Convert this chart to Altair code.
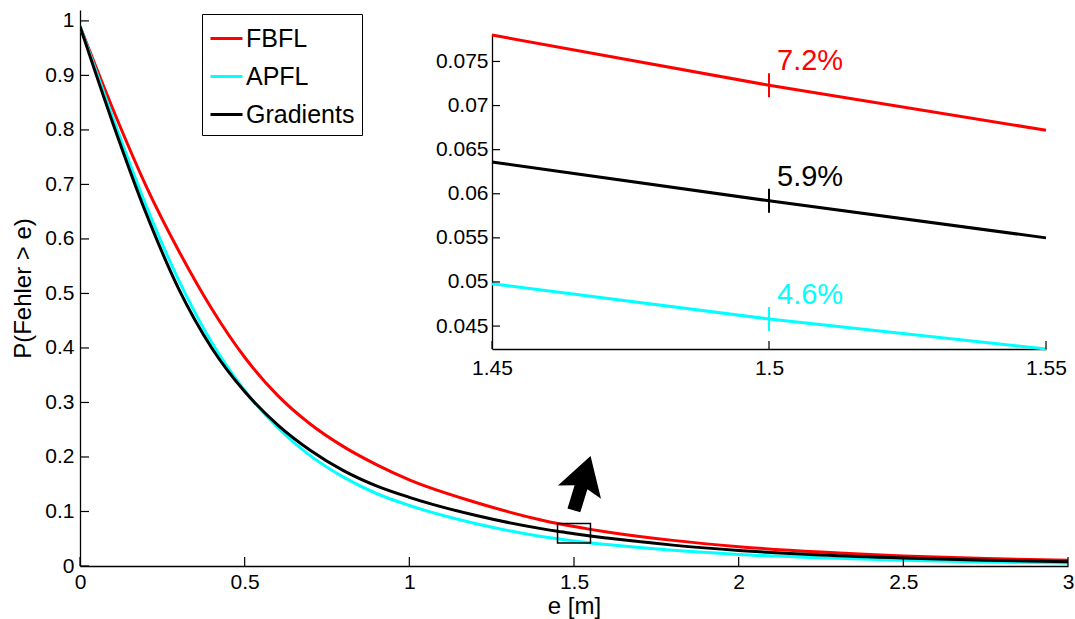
import altair as alt
import pandas as pd

# Error threshold e [m] and exceedance probability P(Fehler > e) per method
e_m = [0, 0.1, 0.2, 0.3, 0.4, 0.5, 0.6, 0.7, 0.8, 0.9, 1.0, 1.2, 1.4,
       1.45, 1.5, 1.55, 1.6, 1.8, 2.0, 2.25, 2.5, 2.75, 3.0]
p_fbfl = [0.99, 0.838, 0.698, 0.578, 0.472, 0.383, 0.313, 0.260, 0.219, 0.186,
          0.158, 0.117, 0.0845, 0.0780, 0.0723, 0.0672, 0.0625, 0.047, 0.0355,
          0.0255, 0.0185, 0.0138, 0.0105]
p_apfl = [0.99, 0.822, 0.662, 0.524, 0.410, 0.322, 0.254, 0.202, 0.163, 0.133,
          0.111, 0.078, 0.0543, 0.0498, 0.0458, 0.0424, 0.0393, 0.0288, 0.0213,
          0.0150, 0.0105, 0.0075, 0.0053]
p_grad = [0.99, 0.812, 0.648, 0.508, 0.400, 0.320, 0.259, 0.212, 0.175, 0.147,
          0.126, 0.093, 0.0686, 0.0636, 0.0592, 0.0550, 0.0512, 0.0383, 0.0285,
          0.0200, 0.0145, 0.0107, 0.0080]

methods = ["FBFL", "APFL", "Gradients"]
colors = ["#ff0000", "#00ffff", "#000000"]

x_ticks = [0, 0.5, 1, 1.5, 2, 2.5, 3]
y_ticks = [0, 0.1, 0.2, 0.3, 0.4, 0.5, 0.6, 0.7, 0.8, 0.9, 1]

# Zoomed window shown in the inset
zoom_e = [1.45, 1.55]
zoom_p = [0.0424, 0.078]
zoom_x_ticks = [1.45, 1.5, 1.55]
zoom_y_ticks = [0.045, 0.05, 0.055, 0.06, 0.065, 0.07, 0.075]
zoom_at = 1.5

# Arrow pointing from the zoom box towards the inset
arrow_e = [1.525]
arrow_p = [0.152]

# Plot geometry (pixels)
W, H = 988, 556
IN_X = [412, 966]
IN_Y = [339, 25]

rows = []
for name, vals in zip(methods, [p_fbfl, p_apfl, p_grad]):
    for e, p in zip(e_m, vals):
        rows.append({"e": e, "p": p, "method": name})
curves = pd.DataFrame(rows)

FONT = "Liberation Sans"

legend = alt.Legend(
    title=None, orient="none", legendX=122, legendY=4,
    symbolType="stroke", symbolSize=1024, symbolStrokeWidth=3,
    labelFontSize=25, labelFont=FONT, labelColor="black", labelOffset=2,
    strokeColor="black", fillColor="white", padding=7, rowPadding=7,
)
color = alt.Color("method:N", scale=alt.Scale(domain=methods, range=colors),
                  legend=legend)

ax_x = alt.Axis(values=x_ticks, format="~g", title="e [m]", labelFlush=False,
                labelOverlap=False, labelPadding=5, titlePadding=2)
ax_y = alt.Axis(values=y_ticks, format="~g", title="P(Fehler > e)",
                labelOverlap=False, labelPadding=6, titlePadding=9)
X = alt.X("e:Q", scale=alt.Scale(domain=[0, 3], nice=False, zero=False), axis=ax_x)
Y = alt.Y("p:Q", scale=alt.Scale(domain=[0, 1.02], nice=False), axis=ax_y)

in_ax_x = alt.Axis(orient="bottom", offset=-(H - IN_Y[0]), values=zoom_x_ticks,
                   format="~g", title=None, labelFlush=False, labelOverlap=False,
                   labelPadding=8)
in_ax_y = alt.Axis(orient="left", offset=-IN_X[0], values=zoom_y_ticks,
                   format="~g", title=None, labelOverlap=False, labelPadding=4)
XI = alt.X("e:Q", scale=alt.Scale(domain=zoom_e, range=IN_X, nice=False, zero=False),
           axis=in_ax_x)
YI = alt.Y("p:Q", scale=alt.Scale(domain=zoom_p, range=IN_Y, nice=False, zero=False),
           axis=in_ax_y)

# ---- main panel ----
main_lines = alt.Chart(curves).mark_line(
    strokeWidth=3, interpolate="monotone", clip=True
).encode(x=X, y=Y, color=color)

main_xt = alt.Chart(pd.DataFrame({"e": x_ticks})).mark_rule(
    color="black", strokeWidth=1.2
).encode(x=X, y=alt.value(H), y2=alt.value(H - 9))

main_yt = alt.Chart(pd.DataFrame({"p": y_ticks})).mark_rule(
    color="black", strokeWidth=1.2
).encode(y=Y, x=alt.value(0), x2=alt.value(9))

zoom_box = alt.Chart(pd.DataFrame({
    "e": [zoom_e[0]], "e2": [zoom_e[1]], "p": [zoom_p[0]], "p2": [zoom_p[1]]
})).mark_rect(fillOpacity=0, stroke="black", strokeWidth=1.5).encode(
    x=X, x2="e2", y=Y, y2="p2"
)

ARROW = ("M-0.235,1 L-0.235,0.15 L-0.79,0.33 L0,-1 L0.79,0.33 "
         "L0.235,0.15 L0.235,1 Z")
arrow = alt.Chart(pd.DataFrame({"e": arrow_e, "p": arrow_p})).mark_point(
    shape=ARROW, filled=True, color="black", opacity=1, size=3249,
    angle=17, strokeWidth=0
).encode(x=X, y=Y)

main = alt.layer(main_lines, main_xt, main_yt, zoom_box, arrow)

# ---- inset ----
in_data = alt.Chart(curves).transform_filter(
    alt.FieldRangePredicate(field="e", range=zoom_e)
)
in_lines = in_data.mark_line(strokeWidth=3, clip=True).encode(x=XI, y=YI, color=color)

at_data = alt.Chart(curves).transform_filter(f"datum.e == {zoom_at}")
in_marks = at_data.mark_point(
    shape="M0,-1L0,1", size=576, strokeWidth=2, filled=False, opacity=1
).encode(x=XI, y=YI, color=color)
in_text = at_data.transform_calculate(
    label="format(datum.p, '.1%')"
).mark_text(align="left", baseline="alphabetic", dx=8, dy=-15,
            fontSize=29, font=FONT).encode(
    x=XI, y=YI, text="label:N", color=color
)

in_xt = alt.Chart(pd.DataFrame({"e": zoom_x_ticks})).mark_rule(
    color="black", strokeWidth=1.2
).encode(x=XI, y=alt.value(IN_Y[0]), y2=alt.value(IN_Y[0] - 8))
in_yt = alt.Chart(pd.DataFrame({"p": zoom_y_ticks})).mark_rule(
    color="black", strokeWidth=1.2
).encode(y=YI, x=alt.value(IN_X[0]), x2=alt.value(IN_X[0] + 8))

inset = alt.layer(in_lines, in_xt, in_yt, in_marks, in_text)

chart = alt.layer(main, inset).resolve_scale(
    x="independent", y="independent"
).properties(
    width=W, height=H,
    autosize=alt.AutoSizeParams(type="none"),
    padding={"left": 80, "top": 10, "right": 7, "bottom": 53},
).configure(font=FONT).configure_view(stroke=None).configure_axis(
    labelFont=FONT, titleFont=FONT, labelFontSize=21, titleFontSize=24,
    titleFontWeight="normal", labelColor="black", titleColor="black",
    domainColor="black", domainWidth=1.3, ticks=False, grid=False,
)

chart.save("out.html", embed_options={"renderer": "svg", "actions": False})
